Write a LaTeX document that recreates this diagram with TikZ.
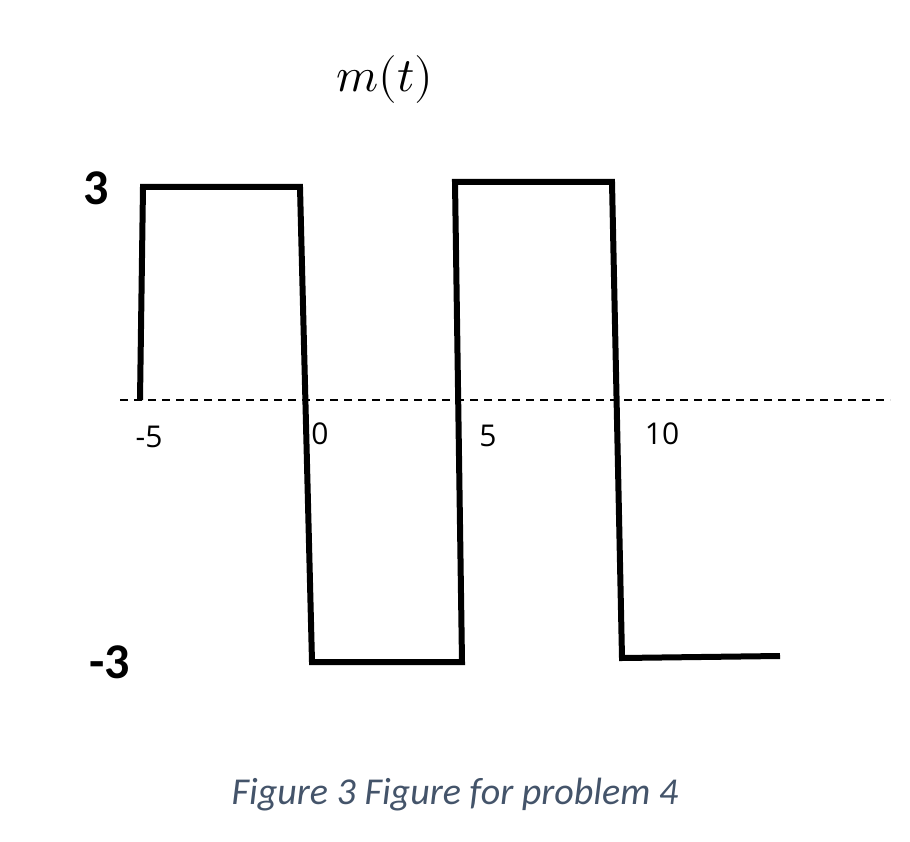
\documentclass[tikz,border=0pt]{standalone}
\usepackage{unicode-math}
\setmainfont{Carlito}
\setmathfont{Latin Modern Math}
\newfontfamily\tickfont{Open Sans}
\definecolor{capcol}{HTML}{44546A}
\begin{document}
\begin{tikzpicture}[x=1pt,y=-1pt,
  wave/.style={line width=6pt,line join=miter},
  tick/.style={font=\tickfont\fontsize{30}{30}\selectfont},
  lev/.style={font=\bfseries\fontsize{50}{50}\selectfont}]
\useasboundingbox (0,0) rectangle (910,842);
\draw[line width=1.5pt,dash pattern=on 8pt off 6pt] (120,400) coordinate (d0) -- (890,400) coordinate (d1);
\draw[wave] (140,400) -- (143,187) -- (300,187) -- (312,662) -- (462,662) -- (455,182) -- (612,182) -- (622,658) -- (780,656);
\node[lev] (l3) at (96,188) {3};
\node[lev] (lm3) at (110,662) {-3};
\node[tick] (tm5) at (149,437) {-5};
\node[tick] (t0) at (320,434) {0};
\node[tick] (t5) at (488,436) {5};
\node[tick] (t10) at (662,434) {10};
\node (mt) at (385,80) {\fontsize{48}{48}\selectfont$m(t)$};
\node[text=capcol] (cap) at (455,795) {\itshape\fontsize{38}{38}\selectfont Figure 3 Figure for problem 4};
\end{tikzpicture}
\end{document}
